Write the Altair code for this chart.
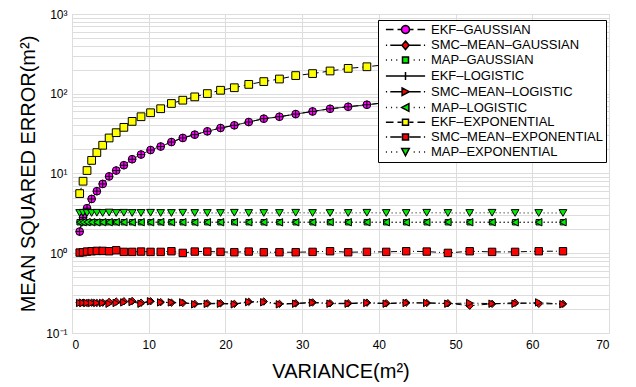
import math
import altair as alt
import pandas as pd

# ---------------- data ----------------
variance = [1.0, 1.44, 1.96, 2.56, 3.24, 4.0, 4.84, 5.76, 6.76, 7.84, 9.0, 10.24,
            11.56, 12.96, 14.44, 16.0, 17.64, 19.36, 21.16, 23.04, 25.0, 27.04,
            29.16, 31.36, 33.64, 36.0, 38.44, 40.96, 43.56, 46.24, 49.0, 51.84,
            54.76, 57.76, 60.84, 64.0]

ekf_gaussian = [1.87, 2.8, 3.67, 4.8, 6.0, 7.4, 9.2, 10.9, 12.7, 15.1, 17.3, 19.7,
                21.8, 24.8, 27.9, 30.7, 33.8, 37.2, 40.2, 44.2, 48.7, 51.5,
                55.6, 60.0, 64.8, 68.7, 72.8, 77.5, 82.0, 87.0, 92.0, 97.5,
                103.0, 108.0, 114.0, 120.0]
smc_gaussian = [0.24, 0.24, 0.238, 0.24, 0.238, 0.24, 0.245, 0.248, 0.25, 0.252, 0.24, 0.25,
                0.244, 0.24, 0.238, 0.232, 0.235, 0.236, 0.232, 0.246, 0.248, 0.232,
                0.236, 0.242, 0.236, 0.236, 0.24, 0.236, 0.24, 0.238, 0.236, 0.22,
                0.232, 0.24, 0.232, 0.232]
map_gaussian = [2.45, 2.45, 2.45, 2.45, 2.45, 2.45, 2.45, 2.45, 2.45, 2.45, 2.45, 2.45,
                2.45, 2.45, 2.45, 2.45, 2.45, 2.45, 2.45, 2.45, 2.45, 2.45,
                2.45, 2.45, 2.45, 2.45, 2.45, 2.45, 2.45, 2.45, 2.45, 2.45,
                2.45, 2.45, 2.45, 2.45]
ekf_logistic = [1.87, 2.8, 3.67, 4.8, 6.0, 7.4, 9.2, 10.9, 12.7, 15.1, 17.3, 19.7,
                21.8, 24.8, 27.9, 30.7, 33.8, 37.2, 40.2, 44.2, 48.7, 51.5,
                55.6, 60.0, 64.8, 68.7, 72.8, 77.5, 82.0, 87.0, 92.0, 97.5,
                103.0, 108.0, 114.0, 120.0]
smc_logistic = [0.238, 0.238, 0.238, 0.238, 0.238, 0.238, 0.233, 0.238, 0.242, 0.245, 0.233, 0.25,
                0.242, 0.242, 0.242, 0.229, 0.232, 0.233, 0.229, 0.244, 0.243, 0.229,
                0.233, 0.24, 0.233, 0.233, 0.238, 0.233, 0.238, 0.238, 0.233, 0.238,
                0.233, 0.233, 0.242, 0.229]
map_logistic = [2.45, 2.45, 2.46, 2.45, 2.44, 2.45, 2.45, 2.46, 2.45, 2.44, 2.45, 2.45,
                2.46, 2.45, 2.45, 2.44, 2.45, 2.45, 2.46, 2.45, 2.45, 2.44,
                2.45, 2.45, 2.46, 2.45, 2.45, 2.45, 2.44, 2.45, 2.46, 2.45,
                2.45, 2.44, 2.45, 2.45]
ekf_exponential = [5.6, 8.0, 10.9, 14.6, 18.3, 22.6, 27.9, 32.5, 37.9, 45.0, 51.5, 57.8,
                   64.9, 75.5, 83.0, 91.4, 100.5, 110.6, 119.0, 131.0, 142.0, 153.0,
                   169.0, 179.0, 193.0, 208.0, 218.0, 232.0, 246.0, 260.0, 275.0, 290.0,
                   305.0, 322.0, 339.0, 356.0]
smc_exponential = [1.02, 1.03, 1.05, 1.06, 1.07, 1.07, 1.06, 1.09, 1.04, 1.04, 1.05, 1.04,
                   1.04, 1.06, 1.01, 1.05, 1.05, 1.04, 1.03, 1.05, 1.03, 1.03,
                   1.03, 1.04, 1.06, 1.03, 1.04, 1.04, 1.06, 1.05, 1.01, 1.06,
                   1.04, 1.04, 1.06, 1.06]
map_exponential = [3.2, 3.22, 3.2, 3.2, 3.22, 3.2, 3.24, 3.2, 3.22, 3.2, 3.2, 3.22,
                   3.2, 3.2, 3.22, 3.2, 3.2, 3.2, 3.22, 3.2, 3.2, 3.2,
                   3.22, 3.2, 3.2, 3.2, 3.22, 3.2, 3.2, 3.22, 3.2, 3.2,
                   3.22, 3.2, 3.2, 3.2]

series_names = ["EKF–GAUSSIAN", "SMC–MEAN–GAUSSIAN", "MAP–GAUSSIAN",
                "EKF–LOGISTIC", "SMC–MEAN–LOGISTIC", "MAP–LOGISTIC",
                "EKF–EXPONENTIAL", "SMC–MEAN–EXPONENTIAL", "MAP–EXPONENTIAL"]
series_values = [ekf_gaussian, smc_gaussian, map_gaussian,
                 ekf_logistic, smc_logistic, map_logistic,
                 ekf_exponential, smc_exponential, map_exponential]
marker_colors = ["#ff00ff", "#ff0000", "#00ee00",
                 "#000000", "#ff0000", "#00ee00",
                 "#ffff00", "#ff0000", "#00ee00"]
x_ticks = [0, 10, 20, 30, 40, 50, 60, 70]
y_ticks = [0.1, 0.2, 0.3, 0.4, 0.5, 0.6, 0.7, 0.8, 0.9,
           1, 2, 3, 4, 5, 6, 7, 8, 9,
           10, 20, 30, 40, 50, 60, 70, 80, 90,
           100, 200, 300, 400, 500, 600, 700, 800, 900, 1000]

# ---------------- styles ----------------
DASHED = [6, 4]
DASHDOT = [6, 3, 1, 3]
DOTTED = [1, 3]
SOLID = [1, 0]
line_dashes = [DASHED, DASHDOT, DOTTED, SOLID, DASHDOT, DOTTED, DASHED, DASHDOT, DOTTED]

PLUS = "M-1,0L1,0M0,-1L0,1"
plot_shapes = ["circle", "diamond", "square", PLUS, "triangle-right", "triangle-left",
               "square", "square", "triangle-down"]
plot_sizes = [60, 55, 30, 64, 55, 55, 60, 55, 60]

# legend symbols: line pattern + marker drawn as one path
L_DASH = "M-4.9,0L-3.0,0M-2.0,0L-1.0,0M1.0,0L2.0,0M3.0,0L4.9,0"
L_DASHDOT = "M-4.9,0L-4.6,0M-3.8,0L-1.0,0M1.0,0L3.8,0M4.6,0L4.9,0"
L_DOT = ("M-4.9,0L-4.65,0M-3.6,0L-3.35,0M-2.3,0L-2.05,0"
         "M2.05,0L2.3,0M3.35,0L3.6,0M4.65,0L4.9,0")
L_SOLID = "M-4.9,0L4.9,0"
M_CIRCLE = "M" + "L".join(
    "%.3f,%.3f" % (1.0 * math.cos(2 * math.pi * k / 20), 1.0 * math.sin(2 * math.pi * k / 20))
    for k in range(20)) + "Z"
M_DIAMOND = "M0,-1.05L0.9,0L0,1.05L-0.9,0Z"
M_SQUARE = "M-0.75,-0.75L0.75,-0.75L0.75,0.75L-0.75,0.75Z"
M_PLUS = "M0,-1L0,1"
M_TRIRIGHT = "M-0.85,-0.95L0.95,0L-0.85,0.95Z"
M_TRILEFT = "M0.85,-0.95L-0.95,0L0.85,0.95Z"
M_TRIDOWN = "M-0.95,-0.85L0.95,-0.85L0,0.95Z"
legend_paths = [L_DASH + M_CIRCLE, L_DASHDOT + M_DIAMOND, L_DOT + M_SQUARE,
                L_SOLID + M_PLUS, L_DASHDOT + M_TRIRIGHT, L_DOT + M_TRILEFT,
                L_DASH + M_SQUARE, L_DASHDOT + M_SQUARE, L_DOT + M_TRIDOWN]

rows = []
for si, (name, vals) in enumerate(zip(series_names, series_values)):
    for xi, (xv, yv) in enumerate(zip(variance, vals)):
        rows.append({"series": name, "variance": xv, "mse": yv, "sidx": si, "pidx": xi})
df = pd.DataFrame(rows)

# one clipped-away row per series, only used to build the legend
leg_df = pd.DataFrame({"label": series_names, "variance": [-20.0] * len(series_names),
                       "mse": [1.0] * len(series_names)})

FONT = "Liberation Sans"

label_expr = ("datum.value == 0.1 ? '10⁻¹' : datum.value == 1 ? '10⁰' : "
              "datum.value == 10 ? '10¹' : datum.value == 100 ? '10²' : "
              "datum.value == 1000 ? '10³' : ''")

x_enc = alt.X("variance:Q",
              scale=alt.Scale(domain=[0, 70], nice=False, zero=False),
              axis=alt.Axis(values=x_ticks, title="VARIANCE(m²)", format="d",
                            labelFontSize=12, labelPadding=6, titleFontSize=20,
                            titleY=44, titleBaseline="alphabetic",
                            ticks=False, domain=False,
                            labelFont=FONT, titleFont=FONT,
                            titleFontWeight="normal", labelColor="black",
                            titleColor="black", grid=True))
y_enc = alt.Y("mse:Q",
              scale=alt.Scale(type="log", domain=[0.1, 1000], nice=False),
              axis=alt.Axis(values=y_ticks, labelExpr=label_expr,
                            title="MEAN SQUARED ERROR(m²)", labelFontSize=12,
                            labelPadding=5, titleFontSize=20,
                            titleX=-34, titleBaseline="bottom",
                            ticks=False, domain=False, labelFont=FONT,
                            titleFont=FONT, titleFontWeight="normal",
                            labelColor="black", titleColor="black", grid=True,
                            labelOverlap=False))

base = alt.Chart(df)

lines = base.mark_line(color="black", strokeWidth=1, clip=True).encode(
    x=x_enc, y=y_enc,
    detail="series:N",
    strokeDash=alt.StrokeDash("series:N",
                              scale=alt.Scale(domain=series_names, range=line_dashes),
                              legend=None),
    order="pidx:Q",
)

point_layers = []
for name, shp, col, sz in zip(series_names, plot_shapes, marker_colors, plot_sizes):
    point_layers.append(
        base.transform_filter(alt.datum.series == name)
        .mark_point(filled=True, shape=shp, fill=col, stroke="black",
                    strokeWidth=1, size=sz, opacity=1, clip=True)
        .encode(x=x_enc, y=y_enc)
    )

legend_def = alt.Legend(
    orient="none", legendX=306, legendY=6, title=None,
    fillColor="white", strokeColor="black", padding=3,
    labelFont=FONT, labelFontSize=13, labelColor="black", labelLimit=400,
    symbolSize=64, symbolOffset=18, labelOffset=19, rowPadding=0.8,
    symbolOpacity=1,
)

legend_layer = alt.Chart(leg_df).mark_point(filled=True, stroke="black",
                                            strokeWidth=1, clip=True).encode(
    x=x_enc, y=y_enc,
    shape=alt.Shape("label:N", scale=alt.Scale(domain=series_names, range=legend_paths),
                    legend=legend_def),
    fill=alt.Fill("label:N", scale=alt.Scale(domain=series_names, range=marker_colors),
                  legend=legend_def),
)

chart = alt.layer(lines, *point_layers, legend_layer).resolve_scale(
    shape="independent", fill="independent"
).properties(
    width=537, height=319,
    autosize=alt.AutoSizeParams(type="none"),
    padding={"left": 64, "top": 6, "right": 19, "bottom": 52},
).configure_view(
    stroke="black", strokeWidth=1
).configure_axis(
    gridColor="#000000", gridOpacity=0.85, gridDash=[1, 4], gridWidth=1
).configure(background="white")

chart.save("out.html", embed_options={"renderer": "svg", "actions": False})
